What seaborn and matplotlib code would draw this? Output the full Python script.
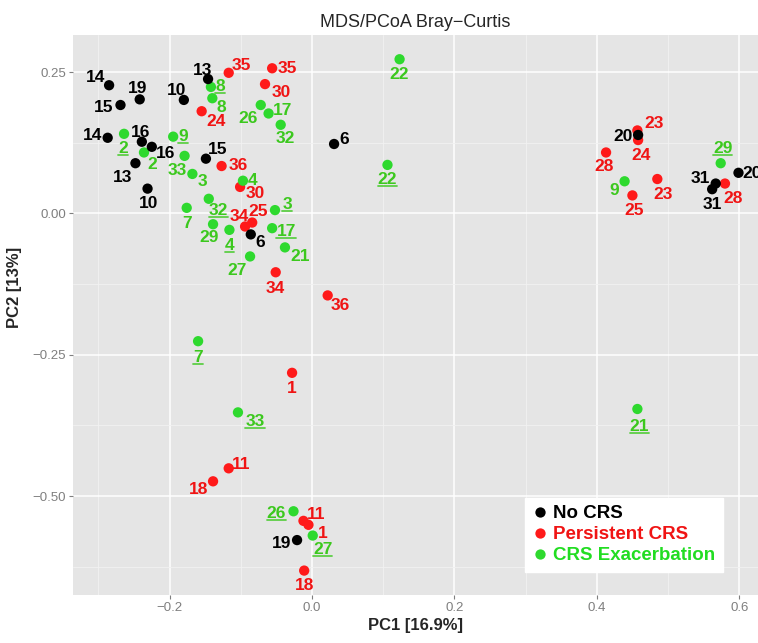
# MDS/PCoA Bray-Curtis ordination, labelled by patient id
import pandas as pd
import matplotlib
matplotlib.use("Agg")
import matplotlib.pyplot as plt
import seaborn as sns
from matplotlib.lines import Line2D

# ---- data ----
group_names = ["No CRS", "Persistent CRS", "CRS Exacerbation"]

no_crs_ids = ["14", "19", "10", "15", "13", "14", "16", "16", "13", "15",
              "10", "6", "6", "20", "20", "31", "31", "19"]
no_crs_pc1 = [-0.285, -0.242, -0.180, -0.269, -0.146, -0.287, -0.239, -0.225,
              -0.248, -0.149, -0.231, 0.031, -0.086, 0.458, 0.599, 0.567,
              0.562, -0.021]
no_crs_pc2 = [0.227, 0.202, 0.201, 0.192, 0.238, 0.134, 0.127, 0.118, 0.089,
              0.097, 0.044, 0.123, -0.037, 0.139, 0.072, 0.053, 0.043, -0.578]

persist_ids = ["35", "35", "30", "24", "36", "30", "34", "25", "34", "36",
               "1", "11", "18", "11", "1", "18", "23", "24", "28", "25",
               "23", "28"]
persist_pc1 = [-0.117, -0.056, -0.066, -0.155, -0.127, -0.101, -0.094, -0.084,
               -0.051, 0.022, -0.028, -0.117, -0.139, -0.012, -0.005, -0.011,
               0.457, 0.458, 0.413, 0.450, 0.485, 0.580]
persist_pc2 = [0.249, 0.257, 0.229, 0.181, 0.084, 0.047, -0.023, -0.016,
               -0.104, -0.145, -0.282, -0.451, -0.474, -0.544, -0.551, -0.632,
               0.147, 0.130, 0.108, 0.032, 0.061, 0.053]

exac_ids = ["8", "8", "2", "2", "9", "33", "3", "26", "17", "32", "22", "22",
            "4", "7", "32", "29", "4", "27", "3", "17", "21", "9", "29", "7",
            "33", "26", "27", "21"]
exac_pc1 = [-0.142, -0.140, -0.264, -0.236, -0.195, -0.179, -0.168, -0.072,
            -0.061, -0.044, 0.123, 0.106, -0.097, -0.176, -0.145, -0.139,
            -0.116, -0.087, -0.052, -0.056, -0.038, 0.439, 0.574, -0.160,
            -0.104, -0.026, 0.001, 0.457]
exac_pc2 = [0.224, 0.204, 0.141, 0.108, 0.136, 0.102, 0.070, 0.192, 0.177,
            0.157, 0.273, 0.086, 0.058, 0.010, 0.026, -0.019, -0.029, -0.076,
            0.006, -0.026, -0.060, 0.057, 0.089, -0.226, -0.352, -0.527,
            -0.570, -0.346]
# underlined ids in the exacerbation group
exac_underlined = [True, False, True, False, True, False, False, False, False,
                   False, False, True, False, False, True, False, True, False,
                   True, True, False, False, True, True, True, True, True, True]

# ---- label placement (pixel offsets from each point) ----
no_crs_offsets = [(-14, 10), (-2, 13), (-7, 11), (-17, 0), (-6, 11), (-15, 4),
                  (-1, 11), (14, -5), (-13, -12), (12, 11), (1, -13), (10, 6),
                  (9, -6), (-15, 0), (14, 1), (-15, 7), (0, -13), (-15, -1)]
persist_offsets = [(13, 9), (15, 2), (16, -6), (14, -8), (17, 3), (15, -5),
                   (-6, 12), (6, 13), (0, -14), (13, -8), (0, -14), (12, 6),
                   (-14, -6), (13, 8), (14, -7), (0, -13), (17, 9), (3, -13),
                   (-2, -12), (2, -13), (6, -13), (8, -13)]
exac_offsets = [(9, 2), (9, -7), (-1, -13), (8, -10), (10, 2), (-7, -13),
                (10, -6), (-13, -11), (14, 5), (5, -12), (0, -13), (0, -13),
                (10, 2), (0, -14), (10, -10), (-4, -11), (0, -14), (-13, -12),
                (12, 8), (14, -1), (15, -7), (-10, -7), (2, 17), (0, -14),
                (17, -7), (-17, 0), (10, -12), (2, -16)]

point_colors = {"No CRS": "#000000", "Persistent CRS": "#FF1A1A",
                "CRS Exacerbation": "#2ED92E"}
text_colors = {"No CRS": "#000000", "Persistent CRS": "#F01414",
               "CRS Exacerbation": "#3CC81E"}

frames = []
for name, ids, x, y, offs in [
        ("Persistent CRS", persist_ids, persist_pc1, persist_pc2, persist_offsets),
        ("CRS Exacerbation", exac_ids, exac_pc1, exac_pc2, exac_offsets),
        ("No CRS", no_crs_ids, no_crs_pc1, no_crs_pc2, no_crs_offsets)]:
    d = pd.DataFrame({"id": ids, "PC1": x, "PC2": y, "group": name})
    d["dx"] = [o[0] for o in offs]
    d["dy"] = [o[1] for o in offs]
    d["underline"] = exac_underlined if name == "CRS Exacerbation" else False
    frames.append(d)
df = pd.concat(frames, ignore_index=True)

# ---- style ----
sns.set_style("darkgrid", {"axes.facecolor": "#E5E5E5",
                           "grid.color": "white"})
plt.rcParams["font.family"] = ["Liberation Sans", "DejaVu Sans"]

fig = plt.figure(figsize=(7.58, 6.43), dpi=100)
ax = fig.add_axes([73 / 758, 1 - 595 / 643, 685 / 758, 560 / 643])

sns.scatterplot(data=df, x="PC1", y="PC2", hue="group",
                hue_order=group_names, palette=point_colors,
                s=55, linewidth=0, ax=ax, zorder=3)

labels = []
for _, r in df.iterrows():
    t = ax.annotate(r["id"], (r["PC1"], r["PC2"]),
                    xytext=(r["dx"], r["dy"] - 2), textcoords="offset pixels",
                    ha="center", va="center", fontsize=12.5,
                    fontweight="bold", color=text_colors[r["group"]],
                    zorder=4)
    labels.append((t, r["underline"], text_colors[r["group"]]))

ax.set_xlim(-0.3357, 0.6264)
ax.set_ylim(-0.6752, 0.3159)
ax.set_xticks([-0.2, 0.0, 0.2, 0.4, 0.6])
ax.set_xticklabels(["\u22120.2", "0.0", "0.2", "0.4", "0.6"])
ax.set_yticks([0.25, 0.0, -0.25, -0.5])
ax.set_yticklabels(["0.25", "0.00", "\u22120.25", "\u22120.50"])
ax.set_xticks([-0.3, -0.1, 0.1, 0.3, 0.5], minor=True)
ax.set_yticks([0.125, -0.125, -0.375, -0.625], minor=True)
ax.grid(which="major", color="white", linewidth=1.1)
ax.grid(which="minor", color="#F2F2F2", linewidth=0.6)
ax.tick_params(which="major", length=3, width=0.8, color="#7F7F7F",
               labelcolor="#7F7F7F", labelsize=9.5, pad=2, bottom=True,
               left=True)
ax.tick_params(which="minor", length=0)
for s in ax.spines.values():
    s.set_visible(False)

ax.set_title("MDS/PCoA Bray\u2212Curtis", fontsize=13, pad=6)
ax.set_xlabel("PC1 [16.9%]", fontsize=12, fontweight="bold", labelpad=3)
ax.set_ylabel("PC2 [13%]", fontsize=12, fontweight="bold")
ax.yaxis.set_label_coords(-0.075, 0.55)

leg = ax.legend(loc="lower right", bbox_to_anchor=(0.962, 0.025),
                frameon=True, facecolor="white", edgecolor="white",
                framealpha=1, fancybox=False, prop={"size": 13.5,
                                                    "weight": "bold"},
                handletextpad=0.3, labelspacing=0.2, borderpad=0.4,
                handlelength=0.8, markerscale=1.0)
for txt, name in zip(leg.get_texts(), group_names):
    txt.set_color(text_colors[name] if name != "CRS Exacerbation"
                  else "#22DD22")

# underline the marked ids using their drawn extents
fig.canvas.draw()
renderer = fig.canvas.get_renderer()
inv = fig.transFigure.inverted()
for t, und, col in labels:
    if not und:
        continue
    bb = t.get_window_extent(renderer)
    (x0, y0), (x1, _) = inv.transform([(bb.x0, bb.y0 + 1), (bb.x1, bb.y0 + 1)])
    fig.add_artist(Line2D([x0, x1], [y0, y0], color=col, linewidth=1.3,
                          alpha=0.8, zorder=5))

fig.savefig("out.png", dpi=100)
